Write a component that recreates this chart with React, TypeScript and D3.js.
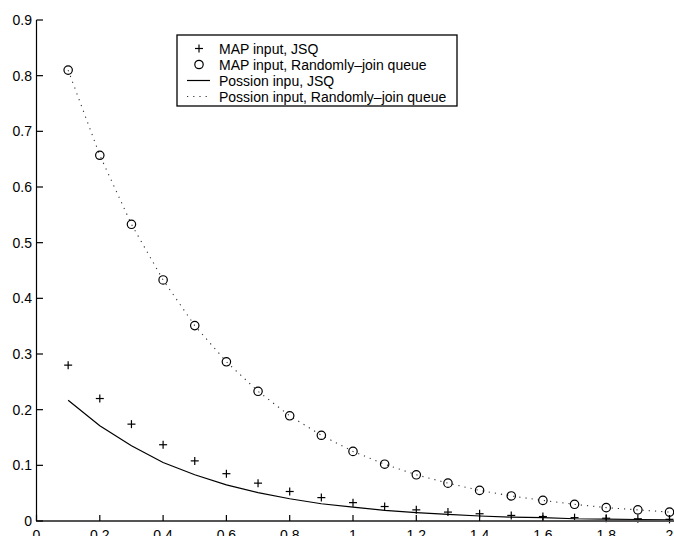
import React from 'react';
import * as d3 from 'd3';

// constants
const width = 674;
const height = 536;
const font = '"Liberation Sans", Arial, Helvetica, sans-serif';

// data
const xValues = [0.1, 0.2, 0.3, 0.4, 0.5, 0.6, 0.7, 0.8, 0.9, 1.0, 1.1, 1.2, 1.3, 1.4, 1.5, 1.6, 1.7, 1.8, 1.9, 2.0];
const mapJsq = [0.280, 0.220, 0.174, 0.137, 0.108, 0.085, 0.068, 0.053, 0.042, 0.033, 0.026, 0.020, 0.016, 0.013, 0.010, 0.008, 0.006, 0.005, 0.004, 0.003];
const mapRandom = [0.810, 0.657, 0.533, 0.433, 0.351, 0.286, 0.233, 0.189, 0.154, 0.125, 0.102, 0.083, 0.068, 0.055, 0.045, 0.037, 0.030, 0.024, 0.020, 0.016];
const poissonJsq = [0.217, 0.171, 0.135, 0.105, 0.083, 0.065, 0.051, 0.040, 0.031, 0.025, 0.019, 0.015, 0.012, 0.009, 0.007, 0.006, 0.004, 0.0035, 0.0027, 0.002];
const poissonRandom = [0.810, 0.657, 0.533, 0.433, 0.351, 0.286, 0.233, 0.189, 0.154, 0.125, 0.102, 0.083, 0.068, 0.055, 0.045, 0.037, 0.030, 0.024, 0.020, 0.016];
const xTicks = [0, 0.2, 0.4, 0.6, 0.8, 1, 1.2, 1.4, 1.6, 1.8, 2];
const yTicks = [0, 0.1, 0.2, 0.3, 0.4, 0.5, 0.6, 0.7, 0.8, 0.9];
const legendLabels = [
  'MAP input, JSQ',
  'MAP input, Randomly\u2013join queue',
  'Possion inpu, JSQ',
  'Possion input, Randomly\u2013join queue',
];

// scales
const xScale = d3.scaleLinear().domain([0, 2]).range([36.5, 669.5]);
const yScale = d3.scaleLinear().domain([0, 0.9]).range([521, 20]);

const line = d3.line<number>()
  .x((d, i) => xScale(xValues[i]))
  .y(d => yScale(d));

const Plus = ({ x, y, s = 4 }: { x: number; y: number; s?: number }) => (
  <g stroke="#000" strokeWidth={1.2}>
    <line x1={x - s} x2={x + s} y1={y} y2={y} />
    <line x1={x} x2={x} y1={y - s} y2={y + s} />
  </g>
);

const Circle = ({ x, y }: { x: number; y: number }) => (
  <circle cx={x} cy={y} r={4.2} fill="none" stroke="#000" strokeWidth={1.2} />
);

const App = () => {
  const legendX = 177;
  const legendY = 35;
  const rowY = [48.5, 64.5, 80.5, 96.5];

  return (
    <svg width={width} height={height} style={{ position: 'absolute', left: 0, top: 0, background: '#fff' }}>
      {/* series */}
      <path d={line(poissonRandom) || ''} fill="none" stroke="#333" strokeWidth={1.1} strokeDasharray="1.2,5" />
      <path d={line(poissonJsq) || ''} fill="none" stroke="#000" strokeWidth={1.2} />
      {mapJsq.map((d, i) => <Plus key={'p' + i} x={xScale(xValues[i])} y={yScale(d)} />)}
      {mapRandom.map((d, i) => <Circle key={'c' + i} x={xScale(xValues[i])} y={yScale(d)} />)}

      {/* axes */}
      <line x1={36.5} x2={36.5} y1={20} y2={521} stroke="#000" strokeWidth={1.2} />
      <line x1={36} x2={674} y1={521} y2={521} stroke="#555" strokeWidth={2.2} />
      {yTicks.map(t => (
        <g key={'y' + t}>
          <line x1={36.5} x2={43} y1={yScale(t)} y2={yScale(t)} stroke="#000" strokeWidth={1.2} />
          <text x={32} y={yScale(t)} dy="0.36em" textAnchor="end" fontFamily={font} fontSize={14}>{t}</text>
        </g>
      ))}
      {xTicks.map(t => (
        <g key={'x' + t}>
          <line x1={xScale(t)} x2={xScale(t)} y1={521} y2={515} stroke="#000" strokeWidth={1.2} />
          <text x={xScale(t)} y={540} textAnchor="middle" fontFamily={font} fontSize={14}>{t}</text>
        </g>
      ))}

      {/* legend */}
      <rect x={legendX} y={legendY} width={280} height={71} fill="#fff" stroke="#000" strokeWidth={1.3} />
      <Plus x={199} y={rowY[0]} />
      <Circle x={199} y={rowY[1]} />
      <line x1={187} x2={210} y1={rowY[2]} y2={rowY[2]} stroke="#000" strokeWidth={1.2} />
      <line x1={187} x2={210} y1={rowY[3]} y2={rowY[3]} stroke="#333" strokeWidth={1.1} strokeDasharray="1.2,5" />
      {legendLabels.map((l, i) => (
        <text key={l} x={219} y={rowY[i]} dy="0.36em" fontFamily={font} fontSize={14}>{l}</text>
      ))}
    </svg>
  );
};

export default App;
